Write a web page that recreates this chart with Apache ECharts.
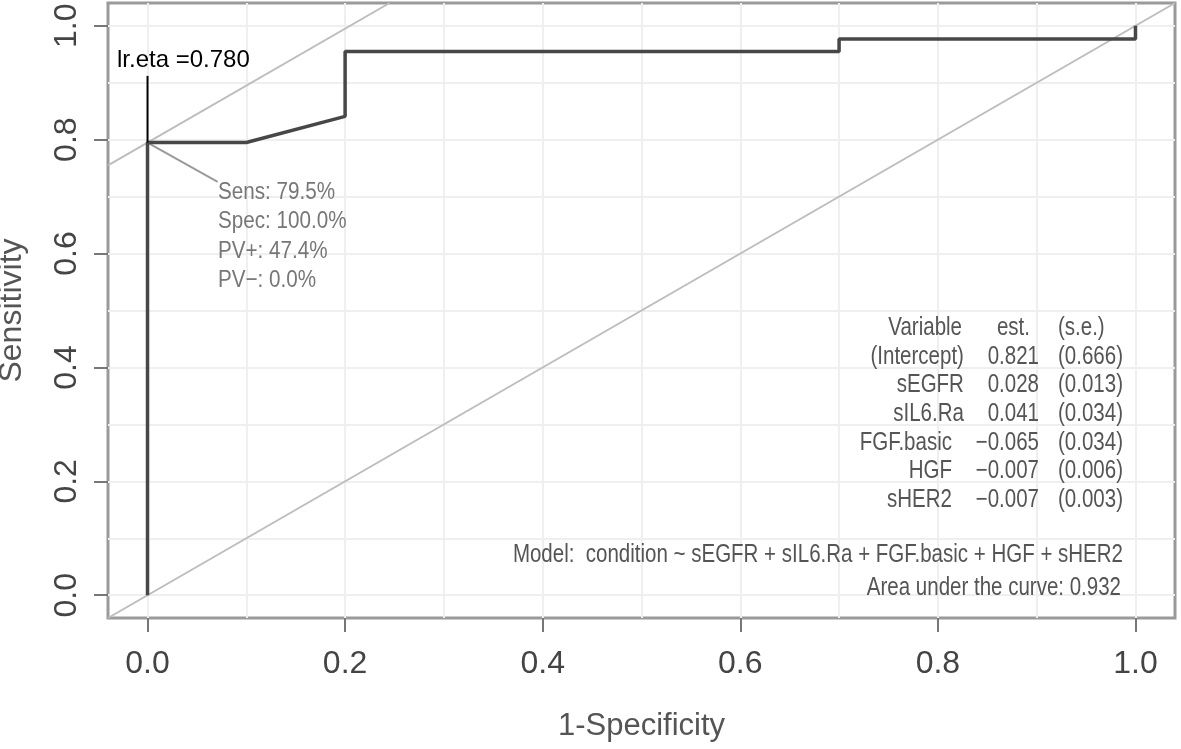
<!DOCTYPE html>
<html>
<head>
<meta charset="utf-8">
<script src="https://cdn.jsdelivr.net/npm/echarts@6/dist/echarts.min.js"></script>
<style>
html,body{margin:0;padding:0;background:#fff;}
#c{width:1181px;height:749px;}
</style>
</head>
<body>
<div id="c"></div>
<script>
// ---- data ----
const axisRange = [-0.04, 1.04];
const xTicks = [0, 0.2, 0.4, 0.6, 0.8, 1.0];
const yTicks = [0, 0.2, 0.4, 0.6, 0.8, 1.0];
const gridVals = [0, 0.1, 0.2, 0.3, 0.4, 0.5, 0.6, 0.7, 0.8, 0.9, 1.0];

// ROC curve: 1-specificity vs sensitivity
const rocFpr = [0, 0, 0.1, 0.2, 0.2, 0.7, 0.7, 1.0, 1.0];
const rocTpr = [0, 0.795, 0.795, 0.841, 0.955, 0.955, 0.977, 0.977, 1.0];

// reference diagonal
const diagX = [-0.04, 1.04];
const diagY = [-0.04, 1.04];
// tangent line through optimal point (slope 1)
const tangentX = [-0.04, 0.245];
const tangentY = [0.755, 1.04];
// cutoff marker line (vertical, up to label)
const cutX = [0, 0];
const cutY = [0.795, 0.912];
// pointer from optimal point to the stats text
const ptrX = [0, 0.071];
const ptrY = [0.795, 0.726];

const cutLabel = 'lr.eta =0.780';
const statLines = ['Sens: 79.5%', 'Spec: 100.0%', 'PV+: 47.4%', 'PV\u2212: 0.0%'];

const tblHeader = ['Variable', 'est.', '(s.e.)'];
const tblVars = ['(Intercept)', 'sEGFR', 'sIL6.Ra', 'FGF.basic', 'HGF', 'sHER2'];
const tblEst = ['0.821', '0.028', '0.041', '\u22120.065', '\u22120.007', '\u22120.007'];
const tblSe = ['(0.666)', '(0.013)', '(0.034)', '(0.034)', '(0.006)', '(0.003)'];
const modelText = 'Model:  condition ~ sEGFR + sIL6.Ra + FGF.basic + HGF + sHER2';
const aucText = 'Area under the curve: 0.932';

// ---- chart ----
const zip = (a, b) => a.map((v, i) => [v, b[i]]);
const chart = echarts.init(document.getElementById('c'), null, {renderer: 'canvas'});

const sans = '"Liberation Sans", Arial, sans-serif';
const tblColor = '#555';
const tblFont = '25px ' + sans;
const tblScale = 0.82;

function lineSeries(data, color, width, z) {
  return {
    type: 'line', data: data, symbol: 'none', silent: true, animation: false, z: z,
    lineStyle: {color: color, width: width}, xAxisIndex: 0, yAxisIndex: 0
  };
}

function tText(x, y, text, align, extra) {
  return Object.assign({
    type: 'text', z: 100, x: x, y: y, scaleX: tblScale,
    style: {text: text, fill: tblColor, font: tblFont, textAlign: align, textVerticalAlign: 'middle'}
  }, extra || {});
}

const graphics = [];
graphics.push({
  type: 'text', left: 117, top: 48, z: 100,
  style: {text: cutLabel, fill: '#000', font: '24px ' + sans}
});
// stats text
statLines.forEach((t, i) => {
  graphics.push({
    type: 'text', z: 100, x: 218, y: 192 + i * 29.5, scaleX: 0.86,
    style: {text: t, fill: '#777', font: '24px ' + sans, textVerticalAlign: 'middle', textAlign: 'left'}
  });
});
// table header
const rowY0 = 328, rowStep = 28.7;
graphics.push(tText(962, rowY0, tblHeader[0], 'right'));
graphics.push(tText(1030, rowY0, tblHeader[1], 'right'));
graphics.push(tText(1058, rowY0, tblHeader[2], 'left'));
tblVars.forEach((v, i) => {
  const y = rowY0 + (i + 1) * rowStep;
  graphics.push({type: 'text', z: 100, x: 1039, y: y, scaleX: tblScale,
    style: {
      text: '{n|' + v + '}{g|}{e|' + tblEst[i] + '}',
      textAlign: 'right', textVerticalAlign: 'middle',
      rich: {
        n: {fill: tblColor, font: tblFont},
        g: {width: 29},
        e: {fill: tblColor, font: tblFont}
      }
    }});
  graphics.push(tText(1058, y, tblSe[i], 'left'));
});
graphics.push(tText(1123, 555, modelText, 'right'));
graphics.push(tText(1121, 588, aucText, 'right'));

const fmt = v => v.toFixed(1);
const tickStyle = {show: true, length: 14, inside: false, lineStyle: {color: '#777', width: 2}};

const option = {
  backgroundColor: '#fff',
  animation: false,
  grid: {left: 108, right: 6, top: 3, bottom: 131, outerBoundsMode: 'none',
    show: true, borderColor: '#9a9a9a', borderWidth: 3, backgroundColor: 'transparent', containLabel: false},
  xAxis: [
    {
      type: 'value', min: axisRange[0], max: axisRange[1], position: 'bottom',
      axisLine: {show: false, onZero: false},
      axisTick: Object.assign({customValues: xTicks}, tickStyle),
      axisLabel: {customValues: xTicks, formatter: fmt, fontSize: 32, fontFamily: sans, color: '#444', margin: 30},
      splitLine: {show: false},
      name: '1-Specificity', nameLocation: 'middle', nameGap: 93,
      nameTextStyle: {fontSize: 31, fontFamily: sans, color: '#555'}
    },
    {
      type: 'value', min: axisRange[0], max: axisRange[1], position: 'top',
      axisLine: {show: false, onZero: false},
      axisTick: {show: false, customValues: gridVals},
      axisLabel: {show: false},
      splitLine: {show: true, lineStyle: {color: '#efefef', width: 2}}
    }
  ],
  yAxis: [
    {
      type: 'value', min: axisRange[0], max: axisRange[1], position: 'left',
      axisLine: {show: false, onZero: false},
      axisTick: Object.assign({customValues: yTicks}, tickStyle),
      axisLabel: {customValues: yTicks, formatter: fmt, fontSize: 32, fontFamily: sans, color: '#444', margin: 25, rotate: 90},
      splitLine: {show: false},
      name: 'Sensitivity', nameLocation: 'middle', nameGap: 80,
      nameTextStyle: {fontSize: 32, fontFamily: sans, color: '#555'}
    },
    {
      type: 'value', min: axisRange[0], max: axisRange[1], position: 'right',
      axisLine: {show: false, onZero: false},
      axisTick: {show: false, customValues: gridVals},
      axisLabel: {show: false},
      splitLine: {show: true, lineStyle: {color: '#efefef', width: 2}}
    }
  ],
  series: [
    lineSeries(zip(diagX, diagY), '#bdbdbd', 2, 3),
    lineSeries(zip(tangentX, tangentY), '#bdbdbd', 2, 3),
    lineSeries(zip(ptrX, ptrY), '#9a9a9a', 2, 4),
    lineSeries(zip(rocFpr, rocTpr), '#474747', 3.5, 5),
    lineSeries(zip(cutX, cutY), '#000', 2, 6)
  ],
  graphic: graphics
};
chart.setOption(option);
</script>
</body>
</html>
